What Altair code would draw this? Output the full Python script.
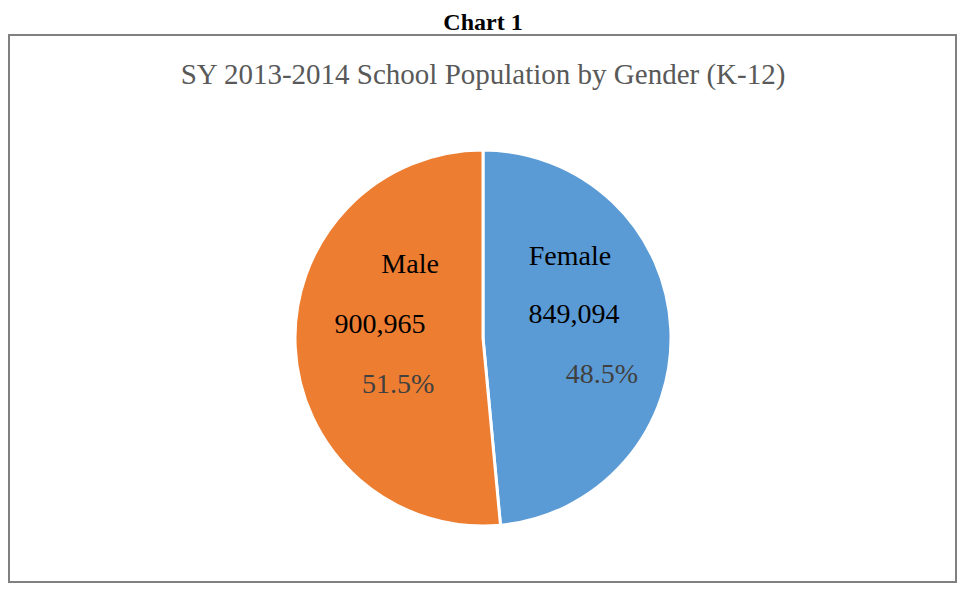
import altair as alt
import pandas as pd

categories = ["Female", "Male"]
populations = [849094, 900965]
colors = ["#5B9BD5", "#ED7D31"]
sort_index = [0, 1]

df = pd.DataFrame({"gender": categories, "population": populations, "idx": sort_index})
df["pct"] = df["population"] / df["population"].sum()

W, H = 949, 576
CX, CY = 475, 330
FONT = "Liberation Serif"

base = alt.Chart(df)

theta = alt.Theta("population:Q", stack=True)
order = alt.Order("idx:Q")

box = alt.Chart(pd.DataFrame({"a": [0]})).mark_rect(
    fill="white", stroke="#808080", strokeWidth=2
).encode(x=alt.value(1), x2=alt.value(W - 1), y=alt.value(27), y2=alt.value(574))

pie = base.mark_arc(outerRadius=188, stroke="white", strokeWidth=3).encode(
    theta=theta,
    order=order,
    color=alt.Color("gender:N", scale=alt.Scale(domain=categories, range=colors), legend=None),
    x=alt.value(CX), y=alt.value(CY),
)

names = base.mark_text(radius=80, dx=7, dy=-77, font=FONT, fontSize=28, color="black", baseline="middle").encode(
    theta=theta, order=order, text="gender:N", x=alt.value(CX), y=alt.value(CY))
values = base.mark_text(radius=97, dx=-6, dy=-18, font=FONT, fontSize=28, color="black", baseline="middle").encode(
    theta=theta, order=order, text=alt.Text("population:Q", format=","), x=alt.value(CX), y=alt.value(CY))
pcts = base.mark_text(radius=102, dx=17, dy=42, font=FONT, fontSize=28, color="#404040", baseline="middle").encode(
    theta=theta, order=order, text=alt.Text("pct:Q", format=".1%"), x=alt.value(CX), y=alt.value(CY))

t1 = alt.Chart(pd.DataFrame({"t": ["Chart 1"]})).mark_text(
    font=FONT, fontSize=24, fontWeight="bold", color="black", baseline="alphabetic", align="center"
).encode(text="t:N", x=alt.value(CX), y=alt.value(22))

t2 = alt.Chart(pd.DataFrame({"t": ["SY 2013-2014 School Population by Gender (K-12)"]})).mark_text(
    font=FONT, fontSize=29, color="#595959", baseline="alphabetic", align="center"
).encode(text="t:N", x=alt.value(CX), y=alt.value(76))

chart = alt.layer(box, pie, names, values, pcts, t1, t2).properties(
    width=W, height=H, padding=0, autosize=alt.AutoSizeParams(type="none")
).configure_view(stroke=None)

chart.save("out.html", embed_options={"renderer": "svg", "actions": False})
